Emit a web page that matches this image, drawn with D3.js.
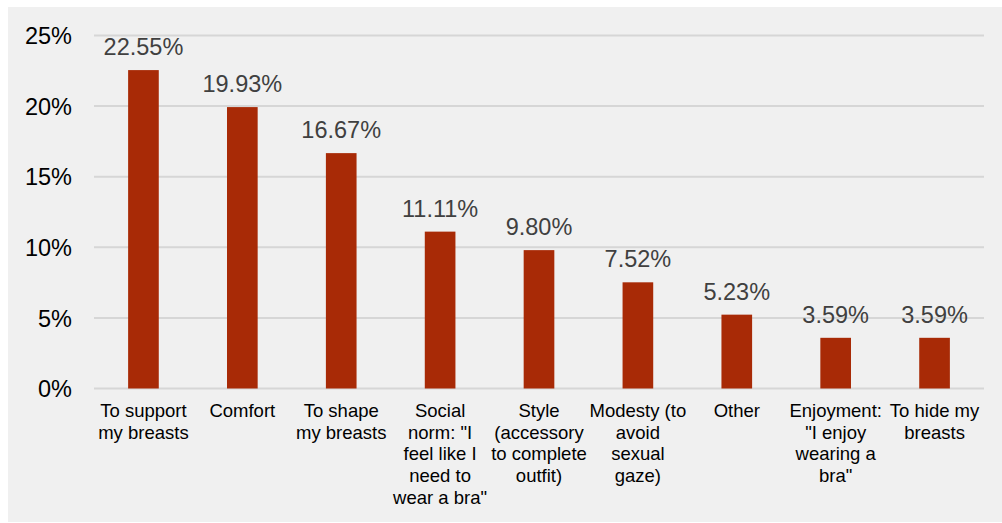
<!DOCTYPE html>
<html>
<head>
<meta charset="utf-8">
<script src="https://cdn.jsdelivr.net/npm/d3@7"></script>
<style>
  body { margin: 0; background: #fff; }
  svg text { font-family: "Liberation Sans", Arial, sans-serif; }
</style>
</head>
<body>
<div id="chart"></div>
<script>
// Chart data
const categories = [
  "To support my breasts", "Comfort", "To shape my breasts",
  "Social norm: \"I feel like I need to wear a bra\"",
  "Style (accessory to complete outfit)",
  "Modesty (to avoid sexual gaze)", "Other",
  "Enjoyment: \"I enjoy wearing a bra\"", "To hide my breasts"
];
// wrapped lines as they appear under each bar
const categoryLines = [
  ["To support", "my breasts"],
  ["Comfort"],
  ["To shape", "my breasts"],
  ["Social", "norm: \"I", "feel like I", "need to", "wear a bra\""],
  ["Style", "(accessory", "to complete", "outfit)"],
  ["Modesty (to", "avoid", "sexual", "gaze)"],
  ["Other"],
  ["Enjoyment:", "\"I enjoy", "wearing a", "bra\""],
  ["To hide my", "breasts"]
];
const values = [22.55, 19.93, 16.67, 11.11, 9.80, 7.52, 5.23, 3.59, 3.59];
const yTicks = [0, 5, 10, 15, 20, 25];

const width = 1002, height = 523;

const svg = d3.select("#chart").append("svg")
  .attr("width", width)
  .attr("height", height);

// panel background
svg.append("rect")
  .attr("x", 8).attr("y", 7)
  .attr("width", width - 8).attr("height", height - 8)
  .attr("fill", "#f0f0f0");

const x = d3.scaleBand()
  .domain(categories)
  .range([94, 984])
  .paddingInner(0.69)
  .paddingOuter(0.345);

const y = d3.scaleLinear()
  .domain([0, 25])
  .range([388.5, 35.5]);

// gridlines
svg.selectAll("line.grid")
  .data(yTicks)
  .enter()
  .append("line")
  .attr("class", "grid")
  .attr("x1", 94).attr("x2", 984)
  .attr("y1", d => y(d)).attr("y2", d => y(d))
  .attr("stroke", "#d6d6d6")
  .attr("stroke-width", 2);

// y axis labels
const yAxis = d3.axisLeft(y)
  .tickValues(yTicks)
  .tickFormat(d => d + "%")
  .tickSize(0)
  .tickPadding(0);

const yG = svg.append("g")
  .attr("transform", "translate(72,0)")
  .call(yAxis);
yG.select(".domain").remove();
yG.selectAll("text")
  .attr("font-size", 23.5)
  .attr("fill", "#000")
  .attr("dy", "0.35em");

// bars
svg.selectAll("rect.bar")
  .data(values)
  .enter()
  .append("rect")
  .attr("class", "bar")
  .attr("x", (d, i) => x(categories[i]))
  .attr("y", d => y(d))
  .attr("width", x.bandwidth())
  .attr("height", d => y(0) - y(d))
  .attr("fill", "#a82a06");

// value labels
svg.selectAll("text.val")
  .data(values)
  .enter()
  .append("text")
  .attr("class", "val")
  .attr("x", (d, i) => x(categories[i]) + x.bandwidth() / 2)
  .attr("y", d => y(d) - 15)
  .attr("text-anchor", "middle")
  .attr("font-size", 23.5)
  .attr("fill", "#404040")
  .text(d => d.toFixed(2) + "%");

// category labels
const catG = svg.selectAll("text.cat")
  .data(categoryLines)
  .enter()
  .append("text")
  .attr("class", "cat")
  .attr("text-anchor", "middle")
  .attr("font-size", 18.5)
  .attr("fill", "#000");

catG.selectAll("tspan")
  .data((lines, i) => lines.map(l => ({ l, i })))
  .enter()
  .append("tspan")
  .attr("x", d => x(categories[d.i]) + x.bandwidth() / 2)
  .attr("y", (d, j) => 417 + j * 21.7)
  .text(d => d.l);
</script>
</body>
</html>
